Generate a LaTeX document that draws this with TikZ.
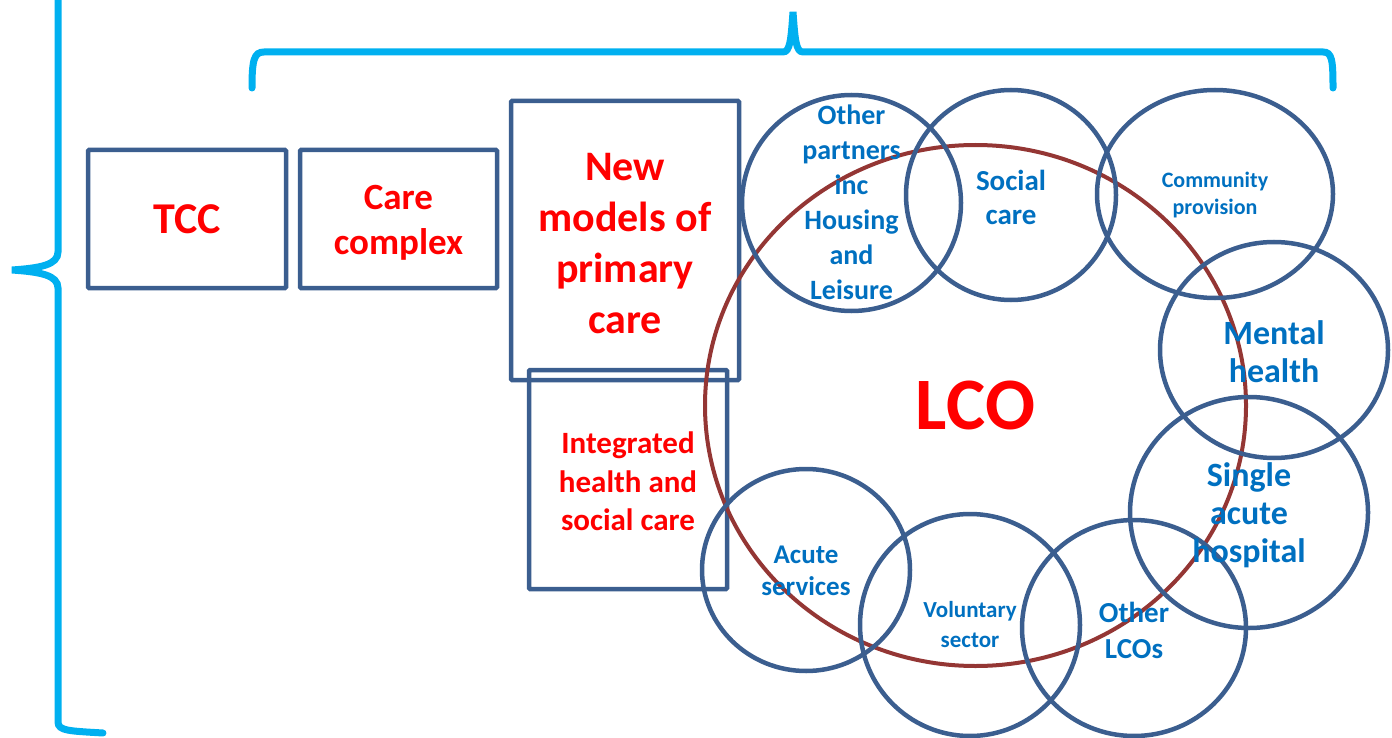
\documentclass[tikz,border=0pt]{standalone}
\usepackage{fontspec}
\setmainfont{Carlito}
\usetikzlibrary{shapes.geometric, positioning}
\definecolor{edgeblue}{HTML}{3B5E8F}
\definecolor{textblue}{HTML}{0070C0}
\definecolor{lcobrown}{HTML}{943634}
\definecolor{braceblue}{HTML}{00B0F0}
\newcommand{\fs}[2]{\fontsize{#1}{#2}\selectfont\bfseries}

\begin{document}
\begin{tikzpicture}[x=1pt, y=-1pt,
    box/.style={draw=edgeblue, line width=4.5pt, rectangle, rounded corners=1pt},
    ring/.style={draw=edgeblue, line width=4.5pt, ellipse, inner sep=0pt},
    title/.style={text=red, align=center},
    tag/.style={text=textblue, align=center},
    brace/.style={draw=braceblue, line width=7pt, line cap=round}]
        \useasboundingbox (0,0) rectangle (1392,738);
        % braces
        \draw[brace] (58,-10) -- (58,252) .. controls (58,265) and (40,268) .. (12,270)
            .. controls (40,272) and (58,275) .. (58,288) -- (58,722)
            .. controls (58,731) and (70,731) .. (103,733);
        \draw[brace] (252,88) .. controls (252,60) and (254,52) .. (264,52) -- (783,52)
            .. controls (790,52) and (791,40) .. (793,12)
            .. controls (795,40) and (796,52) .. (803,52) -- (1323,52)
            .. controls (1332,52) and (1333,60) .. (1333,88);
        % boxes on the left
        \node[box, minimum width=198, minimum height=138] (tcc) at (187,219) {};
        \node[box, minimum width=197, minimum height=138] (care) at (398.5,219) {};
        \node[box, minimum width=228, minimum height=279] (newmodels) at (625,240.5) {};
        \node[box, minimum width=198, minimum height=219] (integrated) at (628,479.5) {};
        \node[title, font=\fs{44}{50}] at (tcc) {TCC};
        \node[title, font=\fs{37}{45}, yshift=-4pt] at (care) {Care\\complex};
        \node[title, font=\fs{42}{51}, yshift=-3pt] at (newmodels) {New\\models of\\primary\\care};
        \node[title, font=\fs{31}{38.5}, yshift=-2pt] at (integrated) {Integrated\\health and\\social care};
        % LCO and the partners round it
        \node[ellipse, draw=lcobrown, line width=4pt, inner sep=0pt, minimum width=541, minimum height=521,
            text=red, font=\fs{74}{80}] (lco) at (975.5,405.5) {LCO};
        \node[ring, minimum width=219, minimum height=216] (partners) at (851.5,203) {};
        \node[ring, minimum width=210, minimum height=210] (social) at (1011,195) {};
        \node[ring, minimum width=236, minimum height=208] (community) at (1215,194) {};
        \node[ring, minimum width=228, minimum height=216] (mental) at (1274,350) {};
        \node[ring, minimum width=238, minimum height=231] (acute) at (1249,512.5) {};
        \node[ring, minimum width=224, minimum height=216] (otherlcos) at (1134,628) {};
        \node[ring, minimum width=220, minimum height=222] (voluntary) at (970,625) {};
        \node[ring, minimum width=208, minimum height=202] (services) at (806,570) {};
        % labels
        \node[tag, font=\fs{28}{35}, yshift=1pt] at (partners) {Other\\partners\\inc\\Housing\\and\\Leisure};
        \node[tag, font=\fs{29}{34}, yshift=-2pt] at (social) {Social\\care};
        \node[tag, font=\fs{22}{27}, yshift=-1pt] at (community) {Community\\provision};
        \node[tag, font=\fs{34}{38}, yshift=-2pt] at (mental) {Mental\\health};
        \node[tag, font=\fs{34}{38}, yshift=-3pt] at (acute) {Single\\acute\\hospital};
        \node[tag, font=\fs{29}{36}, yshift=-2pt] at (otherlcos) {Other\\LCOs};
        \node[tag, font=\fs{23}{30}] at (voluntary) {Voluntary\\sector};
        \node[tag, font=\fs{27}{32}, yshift=-1pt] at (services) {Acute\\services};
\end{tikzpicture}
\end{document}
